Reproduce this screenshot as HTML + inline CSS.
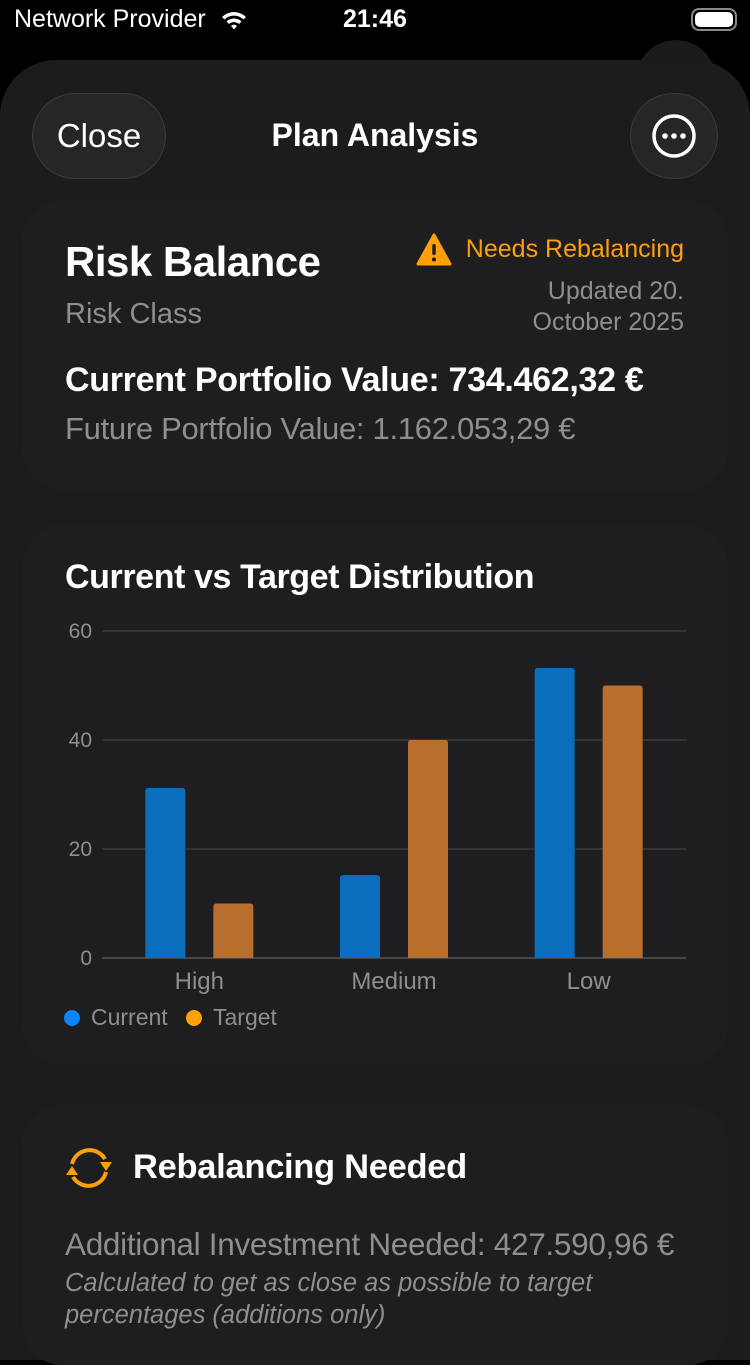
<!DOCTYPE html>
<html><head><meta charset="utf-8">
<style>
*{margin:0;padding:0;box-sizing:border-box}
body{width:750px;height:1334px;background:#000;font-family:"Liberation Sans",sans-serif;color:#fff;overflow:hidden;position:relative}
.abs{position:absolute;white-space:nowrap}
.sheet{position:absolute;left:0;top:60px;width:750px;height:1300px;background:#1c1c1e;border-radius:56px 56px 0 0}
.card{position:absolute;left:22px;width:706px;background:#1e1e20;border-radius:40px}
.btn{position:absolute;background:#262628;border:1.5px solid #3a3a3c;border-radius:44px}
.gray{color:#8e8e93}
</style></head><body>
<div class="abs" style="left:14px;top:5px;font-size:25px">Network Provider</div>
<svg class="abs" style="left:220px;top:8px" width="28" height="24" viewBox="0 0 28 24"><path d="M2 9a17 17 0 0 1 24 0l-2.5 2.5a13.5 13.5 0 0 0-19 0z M6.5 13.5a11 11 0 0 1 15 0L19 16a7.5 7.5 0 0 0-10 0z M11 18a4 4 0 0 1 6 0l-3 3.5z" fill="#fff"/></svg>
<div class="abs" style="left:343px;top:5px;font-size:25px;font-weight:bold">21:46</div>
<div class="abs" style="left:691px;top:8px;width:46px;height:23px;border:2px solid #888;border-radius:8px;padding:2px"><div style="width:100%;height:100%;background:#fff;border-radius:5px"></div></div>
<div class="abs" style="left:636px;top:40px;width:80px;height:80px;border-radius:40px;background:#1a1a1a"></div>
<div class="sheet"></div>
<div class="btn" style="left:32px;top:93px;width:134px;height:86px;font-size:33px;line-height:84px;text-align:center">Close</div>
<div class="abs" style="left:0;width:750px;top:117px;text-align:center;font-size:32px;font-weight:bold">Plan Analysis</div>
<div class="btn" style="left:630px;top:93px;width:88px;height:86px;border-radius:44px">
<svg width="86" height="84" viewBox="0 0 86 84"><circle cx="43" cy="42" r="20" fill="none" stroke="#fff" stroke-width="3.5"/><circle cx="34" cy="42" r="2.8" fill="#fff"/><circle cx="43" cy="42" r="2.8" fill="#fff"/><circle cx="52" cy="42" r="2.8" fill="#fff"/></svg></div>

<div class="card" style="top:200px;height:290px"></div>
<div class="abs" style="left:65px;top:238px;font-size:42px;font-weight:bold;letter-spacing:-0.5px">Risk Balance</div>
<div class="abs gray" style="left:65px;top:298px;font-size:29px">Risk Class</div>
<svg class="abs" style="left:416px;top:233px" width="36" height="34" viewBox="0 0 36 34"><path d="M18 2L34 31H2z" fill="#ff9f0a" stroke="#ff9f0a" stroke-width="3" stroke-linejoin="round"/><rect x="16.3" y="11" width="3.4" height="11" rx="1.5" fill="#1c1c1e"/><circle cx="18" cy="26.5" r="2" fill="#1c1c1e"/></svg>
<div class="abs" style="right:66px;top:235px;font-size:25px;color:#ff9f0a">Needs Rebalancing</div>
<div class="abs gray" style="right:66px;top:276px;font-size:25px;line-height:31px;text-align:right;width:220px">Updated 20.<br>October 2025</div>
<div class="abs" style="left:65px;top:361px;font-size:34px;font-weight:bold;letter-spacing:-0.3px">Current Portfolio Value: 734.462,32 €</div>
<div class="abs gray" style="left:65px;top:411px;font-size:31px;letter-spacing:-0.3px">Future Portfolio Value: 1.162.053,29 €</div>

<div class="card" style="top:525px;height:540px"></div>
<div class="abs" style="left:65px;top:558px;font-size:34px;font-weight:bold;letter-spacing:-0.4px">Current vs Target Distribution</div>
<svg class="abs" id="chart" style="left:0;top:0" width="750" height="1334"></svg>
<div class="abs" style="left:64px;top:1004px;font-size:23px;color:#8e8e93"><span style="display:inline-block;width:16px;height:16px;border-radius:8px;background:#0a84ff;vertical-align:-1px;margin-right:11px"></span>Current</div>
<div class="abs" style="left:186px;top:1004px;font-size:23px;color:#8e8e93"><span style="display:inline-block;width:16px;height:16px;border-radius:8px;background:#ff9f0a;vertical-align:-1px;margin-right:11px"></span>Target</div>

<div class="card" style="top:1105px;height:260px"></div>
<svg class="abs" style="left:62px;top:1145px" width="54" height="46" viewBox="0 0 54 46"><path d="M10 19A18 18 0 0 1 43 14" fill="none" stroke="#ff9f0a" stroke-width="4"/><path d="M44 27A18 18 0 0 1 11 32" fill="none" stroke="#ff9f0a" stroke-width="4"/><path d="M38 17h12l-6 9z" fill="#ff9f0a"/><path d="M4 30h12l-6-9z" fill="#ff9f0a"/></svg>
<div class="abs" style="left:133px;top:1148px;font-size:34.5px;font-weight:bold;letter-spacing:-0.3px">Rebalancing Needed</div>
<div class="abs gray" style="left:65px;top:1226px;font-size:31.5px;letter-spacing:-0.3px">Additional Investment Needed: 427.590,96 €</div>
<div class="abs gray" style="left:65px;top:1267px;font-size:25.5px;line-height:32px;font-style:italic">Calculated to get as close as possible to target<br>percentages (additions only)</div>

<script>
const categories = ["High","Medium","Low"];
const currentValues = [31.2, 15.2, 53.2];
const targetValues = [10, 40, 50];
const yTicks = [0, 20, 40, 60];
const svg = document.getElementById('chart');
const NS = 'http://www.w3.org/2000/svg';
const x0 = 102, x1 = 686, yBase = 958, yTop = 631, yMax = 60;
const yScale = v => yBase - (v / yMax) * (yBase - yTop);
const band = (x1 - x0) / categories.length;
const xCenter = i => x0 + band * (i + 0.5);
function mk(tag, attrs){const e=document.createElementNS(NS,tag);for(const k in attrs)e.setAttribute(k,attrs[k]);svg.appendChild(e);return e;}
yTicks.forEach(t=>{
  const l=mk('line',{x1:x0,x2:x1,y1:yScale(t),y2:yScale(t),stroke:t===0?'#555558':'#3a3a3c','stroke-width':1.5});
  
  
  const tx=mk('text',{x:92,y:yScale(t)+7,'text-anchor':'end','font-size':21,fill:'#8e8e93','font-family':'Liberation Sans, sans-serif'});
  tx.textContent=t;
  
  
});
categories.forEach((c,i)=>{
  const cx=xCenter(i);
  const b1=mk('path',{d:`M${cx-54} ${yBase}V${yScale(currentValues[i])+3}q0-3 3-3h34q3 0 3 3V${yBase}z`,fill:'#0a6ebd'});
  
  
  const b2=mk('path',{d:`M${cx+14} ${yBase}V${yScale(targetValues[i])+3}q0-3 3-3h34q3 0 3 3V${yBase}z`,fill:'#b86e2c'});
  
  
  const tx=mk('text',{x:cx,y:yBase+31,'text-anchor':'middle','font-size':24,fill:'#8e8e93','font-family':'Liberation Sans, sans-serif'});
  tx.textContent=c;
  
  
});
</script>
</body></html>
